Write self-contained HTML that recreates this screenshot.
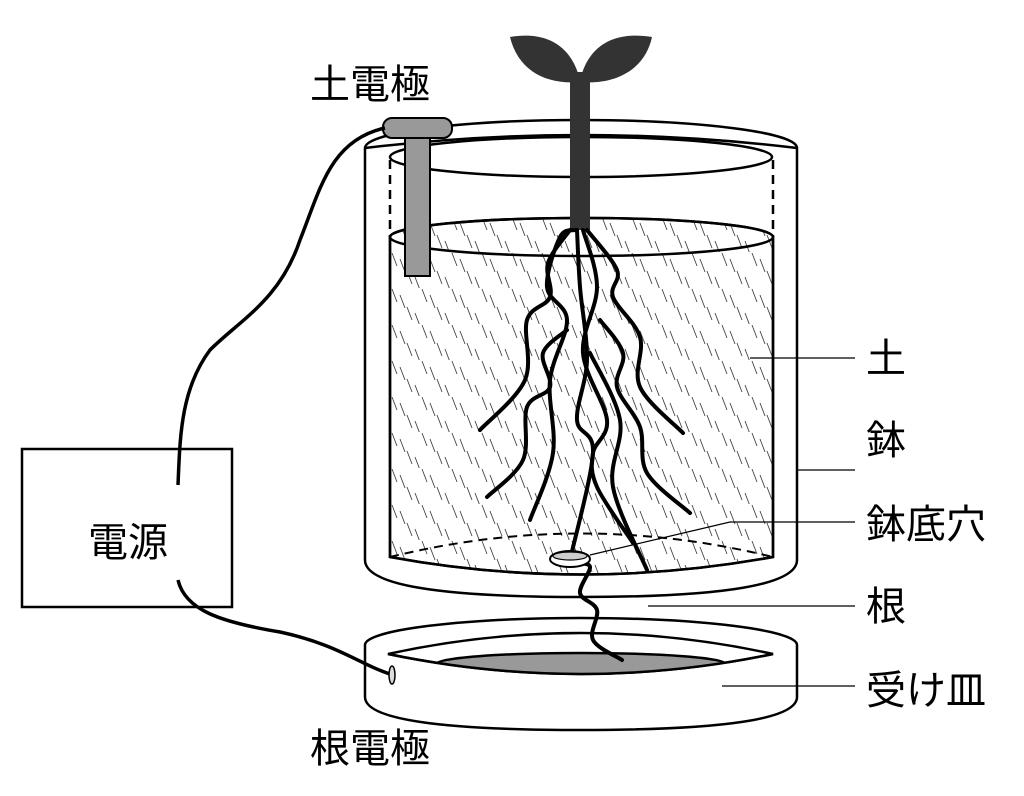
<!DOCTYPE html>
<html><head><meta charset="utf-8"><style>
html,body{margin:0;padding:0;background:#fff;}
svg{display:block}
text{font-family:"Liberation Sans","Noto Sans CJK JP",sans-serif;fill:#000}
</style></head><body>
<svg id="s" width="1024" height="796" viewBox="0 0 1024 796" xmlns="http://www.w3.org/2000/svg">
<defs>
<pattern id="h" width="30" height="36" patternUnits="userSpaceOnUse">
<g stroke="#444" stroke-width="0.9">
<line x1="2" y1="1" x2="7" y2="14"/><line x1="17" y1="19" x2="22" y2="32"/>
<line x1="10" y1="7" x2="15" y2="20"/><line x1="25" y1="25" x2="30" y2="38"/>
</g></pattern>
<clipPath id="sc"><path d="M390 237 A191 19 0 0 1 773 237 L773 557 Q581 592 390 557 Z"/></clipPath>
<clipPath id="ic"><path d="M388 654 Q581 612 773 654 Q581 694 388 654 Z"/></clipPath>
</defs>
<g fill="none" stroke="#000" stroke-width="2.5">
<path d="M365 560 L365 148 A216 28 0 0 1 797 148 L797 560 Q797 597 581 597 Q365 597 365 560 Z" fill="#fff"/>
<path d="M365 148 Q581 122 797 148"/>
<path d="M390 237 A191 19 0 0 1 773 237 L773 557 Q581 592 390 557 Z" fill="#fff"/>
<rect x="380" y="210" width="400" height="400" fill="url(#h)" stroke="none" clip-path="url(#sc)"/>
<path d="M390 237 A191 19 0 0 1 773 237 L773 557 Q581 592 390 557 Z"/>
<path d="M390 237 A191 19 0 0 0 773 237"/>
<path d="M390 557 Q581 510 773 557" stroke-dasharray="9 6" stroke-width="2"/>
<ellipse cx="581" cy="157" rx="191" ry="20"/>
<line x1="390" y1="160" x2="390" y2="237" stroke-dasharray="9 6"/>
<line x1="773" y1="160" x2="773" y2="237" stroke-dasharray="9 6"/>
<path d="M365 645 A216 27 0 0 1 797 645 L797 697 Q797 730 581 730 Q365 730 365 697 Z" fill="#fff"/>
<path d="M388 654 Q581 612 773 654 Q581 694 388 654 Z"/>
<ellipse cx="581" cy="664" rx="145" ry="11" fill="#999" clip-path="url(#ic)"/>
<path d="M388 654 Q581 694 773 654"/>
</g>
<g stroke="#000" stroke-width="1.2">
<line x1="750" y1="358" x2="855" y2="358"/>
<line x1="797" y1="470" x2="855" y2="470"/>
<polyline points="590,555 730,522 855,522" fill="none"/>
<line x1="648" y1="606" x2="855" y2="606"/>
<line x1="722" y1="686" x2="855" y2="686"/>
</g>
<rect x="570" y="72" width="20" height="158" fill="#333"/>
<path d="M580 80 C570 40 540 32 510 37 C518 70 545 85 580 82 Z" fill="#333"/>
<path d="M580 80 C590 40 620 32 652 37 C645 70 615 85 580 82 Z" fill="#333"/>
<g id="roots" fill="none" stroke="#000" stroke-width="4" stroke-linecap="round"></g>
<rect x="405" y="130" width="25" height="146" fill="#999" stroke="#000" stroke-width="2"/>
<rect x="383" y="118" width="69" height="20" rx="9" fill="#999" stroke="#000" stroke-width="2"/>
<path d="M385 128 C330 140 320 190 300 240 C280 300 240 320 210 350 C180 390 180 440 178 485" fill="none" stroke="#000" stroke-width="3.5"/>
<path d="M178 580 C185 610 220 622 280 632 C340 645 360 665 393 675" fill="none" stroke="#000" stroke-width="3.5"/>
<ellipse cx="392" cy="675" rx="3" ry="9" fill="#ddd" stroke="#000" stroke-width="1.5"/>
<ellipse cx="570" cy="559" rx="20" ry="8" fill="#fff" stroke="#000" stroke-width="2"/>
<ellipse cx="570" cy="556" rx="17" ry="4" fill="#ccc" stroke="#000" stroke-width="1.2"/>
<rect x="22" y="449" width="210" height="158" fill="none" stroke="#000" stroke-width="2.5"/>
<rect x="170" y="488" width="20" height="88" fill="#fff"/>
<text x="128" y="556" font-size="40" text-anchor="middle">電源</text>
<text x="310" y="98" font-size="40">土電極</text>
<text x="310" y="762" font-size="40">根電極</text>
<text x="866" y="372" font-size="40">土</text>
<text x="866" y="454" font-size="40">鉢</text>
<text x="866" y="538" font-size="40">鉢底穴</text>
<text x="866" y="620" font-size="40">根</text>
<text x="866" y="704" font-size="40">受け皿</text>
</svg>
<script>
var R=[
[[570,230],[548,263],[550,297],[527,320],[525,380],[480,430]],
[[567,330],[543,353],[550,387],[527,407],[523,460],[487,497]],
[[575,230],[560,237],[547,287],[567,320],[550,380],[553,453],[530,520]],
[[577,230],[580,287],[587,360],[577,420],[593,453],[570,560]],
[[583,230],[597,287],[583,353],[607,420],[593,453],[597,487],[633,543]],
[[587,230],[617,270],[613,297],[640,337],[640,387],[683,433]],
[[600,320],[623,353],[617,387],[640,427],[647,473],[690,513]],
[[590,353],[620,420],[613,487],[647,570]],
[[575,563],[590,567],[580,593],[597,610],[593,640],[622,660]]
];
function cr(p){var d="M"+p[0][0]+" "+p[0][1];for(var i=0;i<p.length-1;i++){var a=p[i-1]||p[i],b=p[i],c=p[i+1],e=p[i+2]||c;d+=" C"+(b[0]+(c[0]-a[0])/6)+" "+(b[1]+(c[1]-a[1])/6)+" "+(c[0]-(e[0]-b[0])/6)+" "+(c[1]-(e[1]-b[1])/6)+" "+c[0]+" "+c[1];}return d;}
var g=document.getElementById("roots");
R.forEach(function(p){var e=document.createElementNS("http://www.w3.org/2000/svg","path");e.setAttribute("d",cr(p));g.appendChild(e);});
</script>
</body></html>
